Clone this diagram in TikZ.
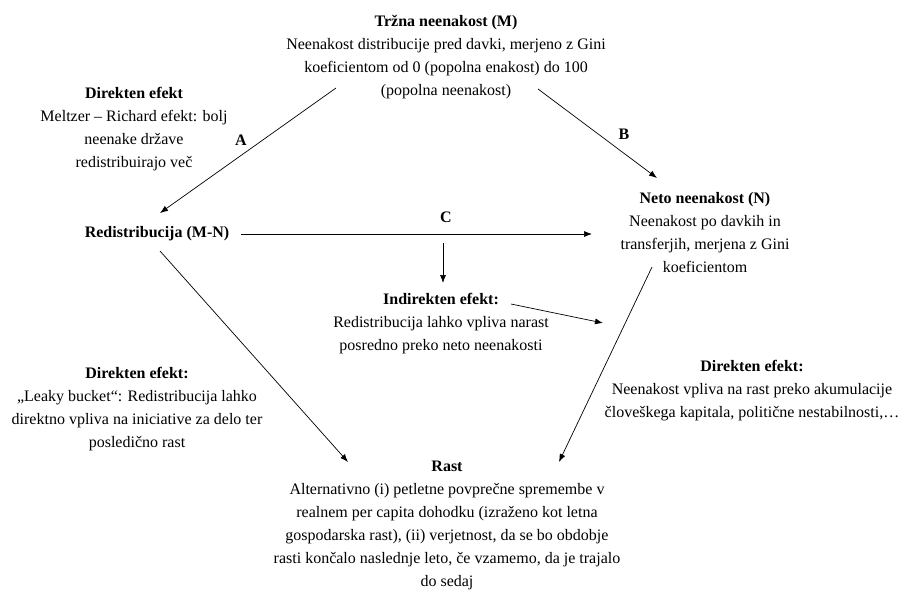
\documentclass[tikz,border=0pt]{standalone}
\usepackage{fontspec}
\setmainfont{Liberation Serif}
\usetikzlibrary{arrows.meta}

\tikzset{
  txt/.style={align=center, inner sep=0pt, font=\fontsize{16}{23}\selectfont},
  lbl/.style={inner sep=0pt, font=\fontsize{16}{23}\selectfont\bfseries},
  arr/.style={-{Latex[length=8pt,width=6pt]}, line width=0.7pt},
}

\begin{document}
\begin{tikzpicture}[x=1pt,y=-1pt]
    \useasboundingbox (0,0) rectangle (901,592);

    % Main blocks
    \node[txt] (M) at (446,57.5) {\textbf{Tržna neenakost (M)}\\
        Neenakost distribucije pred davki, merjeno z Gini\\
        koeficientom od 0 (popolna enakost) do 100\\
        (popolna neenakost)};
    \node[lbl] (R) at (157,234) {Redistribucija (M-N)};
    \node[txt] (N) at (705,233) {\textbf{Neto neenakost (N)}\\
        Neenakost po davkih in\\
        transferjih, merjena z Gini\\
        koeficientom};
    \node[txt] (G) at (447,525.5) {\textbf{Rast}\\
        Alternativno (i) petletne povprečne spremembe v\\
        realnem per capita dohodku (izraženo kot letna\\
        gospodarska rast), (ii) verjetnost, da se bo obdobje\\
        rasti končalo naslednje leto, če vzamemo, da je trajalo\\
        do sedaj};

    % Effect descriptions
    \node[txt] (effA) at (134,129.5) {\textbf{Direkten efekt}\\
        Meltzer – Richard efekt: bolj\\
        neenake države\\
        redistribuirajo več};
    \node[txt] (ind) at (441,323.5) {\textbf{Indirekten efekt:}\\
        Redistribucija lahko vpliva narast\\
        posredno preko neto neenakosti};
    \node[txt] (effL) at (137,409) {\textbf{Direkten efekt:}\\
        „Leaky bucket“: Redistribucija lahko\\
        direktno vpliva na iniciative za delo ter\\
        posledično rast};
    \node[txt] (effR) at (752,391) {\textbf{Direkten efekt:}\\
        Neenakost vpliva na rast preko akumulacije\\
        človeškega kapitala, politične nestabilnosti,…};

    % Channel labels
    \node[lbl] (labA) at (241,140) {A};
    \node[lbl] (labB) at (624,134) {B};
    \node[lbl] (labC) at (446,217) {C};

    % Channels
    \draw[arr] ([shift={(-110,30.5)}]M.center) -- ([shift={(3,-21)}]R.center);
    \draw[arr] ([shift={(92,31.5)}]M.center) -- ([shift={(-48,-55)}]N.center);
    \draw[arr] ([shift={(84,0)}]R.center) -- ([shift={(-113,1)}]N.center);
    \draw[arr] ([shift={(-3,26)}]labC.center) -- ([shift={(2,-40.5)}]ind.center);
    \draw[arr] ([shift={(70,-19.5)}]ind.center) -- ([shift={(-102,90)}]N.center);

    % Direct effects on growth
    \draw[arr] ([shift={(3,17)}]R.center) -- ([shift={(-99,-63.5)}]G.center);
    \draw[arr] ([shift={(-53,34)}]N.center) -- ([shift={(112,-63.5)}]G.center);
\end{tikzpicture}
\end{document}
